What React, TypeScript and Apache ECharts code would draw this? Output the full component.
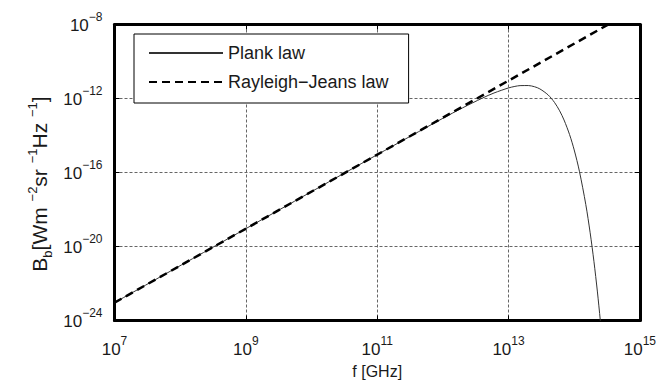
import React, { useEffect, useRef } from 'react';
import * as echarts from 'echarts';

const xTicks = [1e7, 1e9, 1e11, 1e13, 1e15];
const yTicks = [1e-24, 1e-20, 1e-16, 1e-12, 1e-8];

const seriesNames = ['Plank law', 'Rayleigh\u2212Jeans law'];

// Planck law curve
const planckFreq = [
  1e7, 1e9, 1e11, 1e12, 2e12, 4e12, 6e12, 1e13, 1.25e13, 1.5e13, 2e13, 2.5e13,
  3e13, 4e13, 5e13, 6e13, 7e13, 8.5e13, 1e14, 1.2e14, 1.5e14, 1.75e14, 2e14,
  2.25e14, 2.5e14, 2.7e14,
];
const planckValue = [
  9.2e-24, 9.2e-20, 9.15e-16, 8.5e-14, 3.13e-13, 1.05e-12, 1.98e-12, 3.73e-12,
  4.51e-12, 4.97e-12, 5.02e-12, 4.3e-12, 3.3e-12, 1.57e-12, 6.2e-13, 2.16e-13,
  6.9e-14, 1.12e-14, 1.66e-15, 1.17e-16, 1.9e-18, 5.5e-20, 1.5e-21, 3.9e-23,
  9.8e-25, 5e-26,
];

// Rayleigh-Jeans law line
const rjFreq = [1e7, 1e15];
const rjValue = [9.2e-24, 9.2e-8];

const FONT = '"Liberation Sans", Arial, Helvetica, sans-serif';
const TXT = '#1a1a1a';

const labelRich = {
  b: { fontSize: 17, height: 34, lineHeight: 25, verticalAlign: 'top', fontFamily: FONT, color: TXT },
  s: { fontSize: 12, height: 17, lineHeight: 25, verticalAlign: 'top', fontFamily: FONT, color: TXT },
};

const expFmt = (v: number) => {
  const e = Math.round(Math.log10(v));
  const s = e < 0 ? '\u2212' + String(-e) : String(e);
  return `{b|10}{s|${s}}`;
};

// keep the end ticks inside the log extent (floating point of log/pow)
const inside = (arr: number[]) =>
  arr.map((v, i) => (i === arr.length - 1 ? v * (1 - 1e-9) : i === 0 ? v * (1 + 1e-9) : v));

const gridLine = { show: true, lineStyle: { color: '#666', width: 1, type: [3, 2] } };
const frameLine = { show: true, onZero: false, lineStyle: { color: '#000', width: 3 } };

function makeX(main: boolean) {
  return {
    type: 'log',
    logBase: 10,
    min: xTicks[0],
    max: xTicks[xTicks.length - 1],
    position: main ? 'bottom' : 'top',
    axisLine: frameLine,
    axisTick: { show: true, inside: true, length: 5, customValues: inside(xTicks), lineStyle: { color: '#000', width: 1 } },
    minorTick: { show: false },
    axisLabel: main
      ? {
          show: true,
          customValues: inside(xTicks),
          formatter: expFmt,
          rich: labelRich,
          margin: 12,
          showMinLabel: true,
          showMaxLabel: true,
          hideOverlap: false,
          fontFamily: FONT,
          color: TXT,
        }
      : { show: false },
    splitLine: main ? gridLine : { show: false },
    minorSplitLine: { show: false },
    name: main ? 'f [GHz]' : '',
    nameLocation: 'middle',
    nameGap: 42,
    nameMoveOverlap: false,
    nameTextStyle: { fontFamily: FONT, fontSize: 16, lineHeight: 18, color: TXT },
  };
}

function makeY(main: boolean) {
  return {
    type: 'log',
    logBase: 10,
    min: yTicks[0],
    max: yTicks[yTicks.length - 1],
    position: main ? 'left' : 'right',
    axisLine: frameLine,
    axisTick: { show: true, inside: true, length: 5, customValues: inside(yTicks), lineStyle: { color: '#000', width: 1 } },
    minorTick: { show: false },
    axisLabel: main
      ? {
          show: true,
          customValues: inside(yTicks),
          formatter: expFmt,
          rich: labelRich,
          margin: 12,
          padding: [0, 0, 7, 0],
          showMinLabel: true,
          showMaxLabel: true,
          fontFamily: FONT,
          color: TXT,
        }
      : { show: false },
    splitLine: main ? gridLine : { show: false },
    minorSplitLine: { show: false },
    name: main
      ? '{b|B}{sub|b}{b|[Wm }{sup|\u22122}{b|sr }{sup|\u22121}{b|Hz }{sup|\u22121}{b|]}'
      : '',
    nameLocation: 'middle',
    nameGap: 58.5,
    nameMoveOverlap: false,
    nameTextStyle: {
      fontFamily: FONT,
      color: TXT,
      padding: [0, 23, 0, 0],
      rich: {
        b: { fontSize: 21, height: 42, lineHeight: 38, verticalAlign: 'top', fontFamily: FONT, color: TXT },
        sup: { fontSize: 13, height: 29, lineHeight: 38, verticalAlign: 'top', fontFamily: FONT, color: TXT },
        sub: { fontSize: 13, height: 59, lineHeight: 38, verticalAlign: 'top', fontFamily: FONT, color: TXT },
      },
    },
  };
}

export default function App() {
  const ref = useRef<HTMLDivElement>(null);
  useEffect(() => {
    if (!ref.current) return;
    const chart = echarts.init(ref.current, undefined, { renderer: 'svg' });
    chart.setOption({
      animation: false,
      backgroundColor: '#fff',
      grid: { left: 114.5, right: 17.5, top: 24.5, bottom: 66.5, containLabel: false },
      legend: {
        orient: 'vertical',
        left: 134,
        top: 34,
        z: 10,
        itemWidth: 74,
        itemHeight: 14,
        itemGap: 11,
        padding: [10, 20, 12, 14],
        backgroundColor: '#fff',
        borderColor: '#000',
        borderWidth: 1,
        borderRadius: 0,
        itemStyle: { opacity: 0, borderWidth: 0 },
        textStyle: { fontFamily: FONT, fontSize: 18, lineHeight: 18, color: TXT },
        data: seriesNames,
      },
      xAxis: [makeX(true), makeX(false)],
      yAxis: [makeY(true), makeY(false)],
      series: [
        {
          type: 'line',
          name: seriesNames[0],
          data: planckFreq.map((f, i) => [f, planckValue[i]]),
          symbol: 'none',
          showSymbol: false,
          smooth: 0.3,
          lineStyle: { color: '#333', width: 1 },
          itemStyle: { color: '#333' },
          z: 3,
        },
        {
          type: 'line',
          name: seriesNames[1],
          data: rjFreq.map((f, i) => [f, rjValue[i]]),
          symbol: 'none',
          showSymbol: false,
          lineStyle: { color: '#000', width: 2.5, type: [8, 5] },
          itemStyle: { color: '#000' },
          z: 4,
        },
      ],
    });
    return () => chart.dispose();
  }, []);
  return (
    <div
      ref={ref}
      style={{ position: 'fixed', left: 0, top: 0, width: 659, height: 387, background: '#fff' }}
    />
  );
}
